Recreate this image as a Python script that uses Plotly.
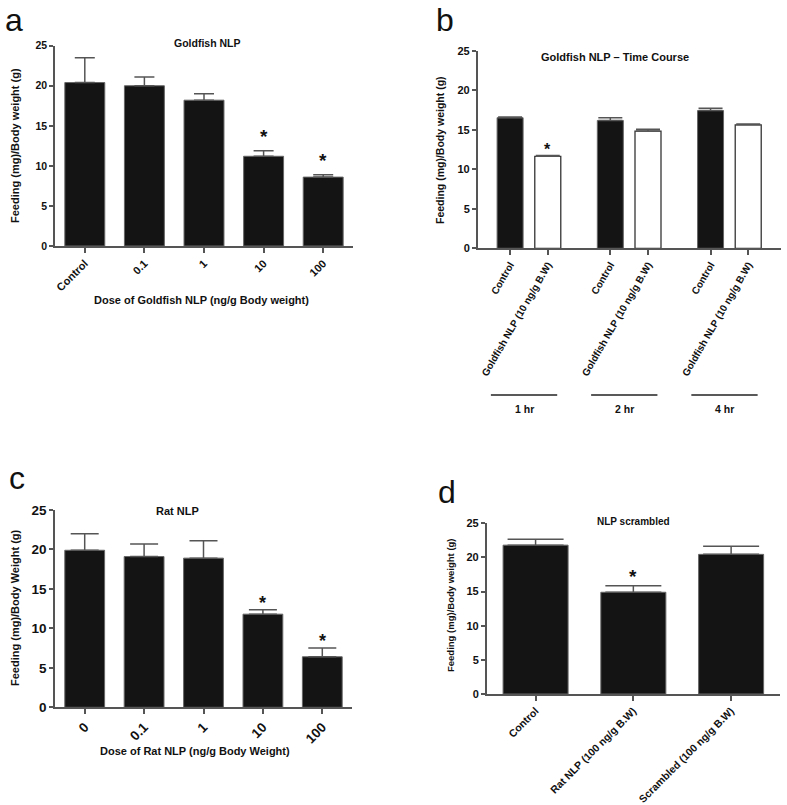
import plotly.graph_objects as go

# ---------------- data ----------------
# Panel a: Goldfish NLP dose response
a_doses = ["Control", "0.1", "1", "10", "100"]
a_mean = [20.4, 20.0, 18.2, 11.2, 8.6]
a_top = [23.5, 21.1, 19.0, 11.9, 8.9]          # mean + SEM
a_sig = [False, False, False, True, True]

# Panel b: Goldfish NLP time course
b_times = ["1 hr", "2 hr", "4 hr"]
b_treat = ["Control", "Goldfish NLP (10 ng/g B.W)"]
b_control = [16.55, 16.2, 17.45]
b_control_top = [16.65, 16.55, 17.75]
b_nlp = [11.65, 14.85, 15.65]
b_nlp_top = [11.75, 15.1, 15.75]
b_nlp_sig = [True, False, False]

# Panel c: Rat NLP dose response
c_doses = ["0", "0.1", "1", "10", "100"]
c_mean = [19.9, 19.1, 18.9, 11.8, 6.4]
c_top = [22.0, 20.7, 21.1, 12.35, 7.5]
c_sig = [False, False, False, True, True]

# Panel d: NLP scrambled
d_groups = ["Control", "Rat NLP (100 ng/g B.W)", "Scrambled (100 ng/g B.W)"]
d_mean = [21.8, 14.9, 20.45]
d_top = [22.65, 15.85, 21.65]
d_sig = [False, True, False]

# ---------------- styling helpers ----------------
W, H = 787, 805
FONT = "Liberation Sans, Arial, sans-serif"
BAR = "#141414"
EDGE = "#666666"
AX = "#555555"


def px_x(p):
    return p / W


def px_y(p):
    return 1 - p / H


def err(top, mean, width, color=AX):
    return dict(type="data", symmetric=False,
                array=[t - m for t, m in zip(top, mean)],
                arrayminus=[0] * len(mean),
                color=color, thickness=1.5, width=width)


fig = go.Figure()

# Panel a
fig.add_trace(go.Bar(x=a_doses, y=a_mean, width=0.67,
                     marker=dict(color=BAR, line=dict(color=EDGE, width=1)),
                     error_y=err(a_top, a_mean, 10),
                     xaxis="x", yaxis="y", showlegend=False))

# Panel b
GAP = 2.66
grp_pos = [g * GAP for g in range(len(b_times))]
ctrl_x = [p for p in grp_pos]
nlp_x = [p + 1 for p in grp_pos]
fig.add_trace(go.Bar(x=ctrl_x, y=b_control, width=0.69,
                     marker=dict(color=BAR, line=dict(color=EDGE, width=1)),
                     error_y=err(b_control_top, b_control, 12),
                     xaxis="x2", yaxis="y2", showlegend=False))
fig.add_trace(go.Bar(x=nlp_x, y=b_nlp, width=0.69,
                     marker=dict(color="white", line=dict(color="#333333", width=1.3)),
                     error_y=err(b_nlp_top, b_nlp, 12),
                     xaxis="x2", yaxis="y2", showlegend=False))

# Panel c
fig.add_trace(go.Bar(x=c_doses, y=c_mean, width=0.67,
                     marker=dict(color=BAR, line=dict(color=EDGE, width=1)),
                     error_y=err(c_top, c_mean, 14),
                     xaxis="x3", yaxis="y3", showlegend=False))

# Panel d
fig.add_trace(go.Bar(x=d_groups, y=d_mean, width=0.665,
                     marker=dict(color=BAR, line=dict(color=EDGE, width=1)),
                     error_y=err(d_top, d_mean, 28),
                     xaxis="x4", yaxis="y4", showlegend=False))


def xax(domain, tsize, angle, **kw):
    d = dict(domain=[px_x(domain[0]), px_x(domain[1])], showline=True, linecolor=AX,
             linewidth=1.5, ticks="outside", ticklen=5, tickcolor=AX, tickwidth=1.5,
             showgrid=False, zeroline=False, tickangle=angle, automargin=False,
             tickfont=dict(family=FONT, size=tsize, color="#111", weight="bold"))
    d.update(kw)
    return d


def yax(domain, tsize, anchor, **kw):
    d = dict(domain=[px_y(domain[0]), px_y(domain[1])], range=[0, 25], dtick=5,
             showline=True, linecolor=AX, linewidth=1.5, ticks="outside", ticklen=4,
             tickcolor=AX, tickwidth=1.5, showgrid=False, zeroline=False, anchor=anchor,
             automargin=False,
             tickfont=dict(family=FONT, size=tsize, color="#111", weight="bold"))
    d.update(kw)
    return d


fig.update_layout(
    width=W, height=H, autosize=False,
    margin=dict(l=0, r=0, t=0, b=0),
    paper_bgcolor="white", plot_bgcolor="white",
    xaxis=xax((55, 353), 11, -45, anchor="y", type="category", range=[-0.5, 4.5]),
    yaxis=yax((246, 45.7), 10.5, "x"),
    xaxis2=xax((477.7, 781), 10, -60, anchor="y2", range=[-0.86, 7.19],
               tickvals=[v for pair in zip(ctrl_x, nlp_x) for v in pair],
               ticktext=[t for _ in b_times for t in b_treat]),
    yaxis2=yax((248.3, 51), 11, "x2"),
    xaxis3=xax((55, 352), 13.5, -45, anchor="y3", type="category", range=[-0.5, 4.5]),
    yaxis3=yax((707.3, 510), 13.5, "x3"),
    xaxis4=xax((486.7, 780), 10.5, -45, anchor="y4", type="category", range=[-0.5, 2.5]),
    yaxis4=yax((694, 523.3), 11, "x4"),
)

ann = []


def text(x, y, s, size, bold=True, angle=0, xa="center", ya="middle"):
    ann.append(dict(x=px_x(x), y=px_y(y), xref="paper", yref="paper", text=s,
                    showarrow=False, textangle=angle, xanchor=xa, yanchor=ya,
                    font=dict(family=FONT, size=size, color="#111",
                              weight="bold" if bold else "normal")))


# panel letters
text(13.5, 0, "a", 32, bold=False, ya="top")
text(445, 0, "b", 32, bold=False, ya="top")
text(17, 478, "c", 32, bold=False)
text(447, 492, "d", 32, bold=False)

# titles
text(207, 43, "Goldfish NLP", 10.5)
text(615, 57, "Goldfish NLP \u2013 Time Course", 11)
text(177, 511, "Rat NLP", 11)
text(633, 521, "NLP scrambled", 10)

# y titles
text(15, 146, "Feeding (mg)/Body weight (g)", 11, angle=-90)
text(440, 150, "Feeding (mg)/Body weight (g)", 10.5, angle=-90)
text(15, 608, "Feeding (mg)/Body Weight (g)", 11, angle=-90)
text(450, 605, "Feeding (mg)/Body weight (g)", 9.5, angle=-90)

# x titles
text(202, 300, "Dose of Goldfish NLP (ng/g Body weight)", 11)
text(195, 751, "Dose of Rat NLP (ng/g Body Weight)", 11)


def stars(xs, tops, sig, xref, yref, size, shift):
    for x, t, s in zip(xs, tops, sig):
        if s:
            ann.append(dict(x=x, y=t, xref=xref, yref=yref, text="*", showarrow=False,
                            yanchor="middle", yshift=shift,
                            font=dict(family=FONT, size=size, color="#111", weight="bold")))


stars(list(range(len(a_doses))), a_top, a_sig, "x", "y", 19, 14)
stars(nlp_x, b_nlp_top, b_nlp_sig, "x2", "y2", 16, 6)
stars(list(range(len(c_doses))), c_top, c_sig, "x3", "y3", 18, 7)
stars(list(range(len(d_groups))), d_top, d_sig, "x4", "y4", 19, 9)

# time-course group lines and labels (panel b)
shapes = []
for g, lab in zip(grp_pos, b_times):
    c = g + 0.5 - 0.13
    shapes.append(dict(type="line", xref="x2", yref="paper", x0=c - 0.88, x1=c + 0.88,
                       y0=px_y(395), y1=px_y(395), line=dict(color="#222", width=1.3)))
    ann.append(dict(x=c, y=px_y(408.5), xref="x2", yref="paper", text=lab,
                    showarrow=False, yanchor="middle",
                    font=dict(family=FONT, size=10.5, color="#111", weight="bold")))

fig.update_layout(annotations=ann, shapes=shapes)
# remove the browser's default 8px body margin so the figure starts at the page corner
fig.write_html("out.html", config={"displayModeBar": False},
               post_script="document.body.style.margin='0px';")
